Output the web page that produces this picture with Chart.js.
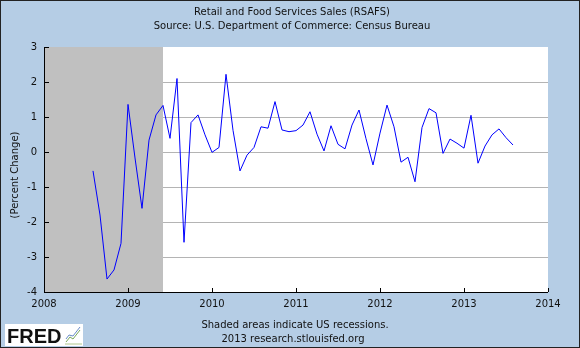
<!DOCTYPE html>
<html><head><meta charset="utf-8">
<script src="https://cdn.jsdelivr.net/npm/chart.js@4"></script>
<style>html,body{margin:0;padding:0;background:#b5cde5;} canvas{display:block;}</style>
</head><body><canvas id="c" width="580" height="348"></canvas>
<script>
const titleLines = ['Retail and Food Services Sales (RSAFS)', 'Source: U.S. Department of Commerce: Census Bureau'];
const footerLines = ['Shaded areas indicate US recessions.', '2013 research.stlouisfed.org'];
const yAxisTitle = '(Percent Change)';
const logoText = 'FRED';
const months = [
 '2008-08','2008-09','2008-10','2008-11','2008-12',
 '2009-01','2009-02','2009-03','2009-04','2009-05','2009-06','2009-07','2009-08','2009-09','2009-10','2009-11','2009-12',
 '2010-01','2010-02','2010-03','2010-04','2010-05','2010-06','2010-07','2010-08','2010-09','2010-10','2010-11','2010-12',
 '2011-01','2011-02','2011-03','2011-04','2011-05','2011-06','2011-07','2011-08','2011-09','2011-10','2011-11','2011-12',
 '2012-01','2012-02','2012-03','2012-04','2012-05','2012-06','2012-07','2012-08','2012-09','2012-10','2012-11','2012-12',
 '2013-01','2013-02','2013-03','2013-04','2013-05','2013-06','2013-07','2013-08'
];
const pctChange = [
 -0.54,-1.8,-3.63,-3.37,-2.61,
 1.36,-0.17,-1.61,0.34,1.06,1.33,0.39,2.1,-2.58,0.84,1.06,0.49,
 -0.01,0.13,2.22,0.62,-0.54,-0.09,0.13,0.72,0.68,1.44,0.63,0.58,
 0.61,0.77,1.15,0.51,0.03,0.75,0.22,0.09,0.77,1.2,0.38,-0.37,
 0.54,1.34,0.72,-0.29,-0.15,-0.85,0.7,1.24,1.12,-0.04,0.37,0.25,
 0.11,1.05,-0.32,0.17,0.49,0.66,0.41,0.2
];
const recession = ['2007-12','2009-06'];
const xTickYears = [2008,2009,2010,2011,2012,2013,2014];
const yTickValues = [-4,-3,-2,-1,0,1,2,3];

function toYear(s){ const [y,m]=s.split('-').map(Number); return y+(m-1)/12; }
const points = months.map((m,i)=>({x:toYear(m), y:pctChange[i]}));
const FONT = 'DejaVu Sans';

const fredPlugin = {
  id:'fred',
  beforeDraw(chart){
    const {ctx, chartArea:a} = chart;
    ctx.save();
    ctx.fillStyle='#b5cde5'; ctx.fillRect(0,0,chart.width,chart.height);
    ctx.fillStyle='#ffffff'; ctx.fillRect(a.left,a.top,a.right-a.left,a.bottom-a.top);
    ctx.restore();
  },
  beforeDatasetsDraw(chart){
    const {ctx, chartArea:a, scales:{x}} = chart;
    const x1 = Math.max(a.left, x.getPixelForValue(toYear(recession[0])));
    const x2 = Math.min(a.right, x.getPixelForValue(toYear(recession[1])));
    ctx.save();
    ctx.fillStyle='#c0c0c0';
    ctx.fillRect(x1,a.top,x2-x1,a.bottom-a.top);
    ctx.restore();
  },
  afterDatasetsDraw(chart){
    const {ctx, chartArea:a, scales:{x,y}} = chart;
    ctx.save();
    ctx.strokeStyle='#000'; ctx.lineWidth=1;
    ctx.beginPath();
    ctx.moveTo(a.left+0.5,a.top); ctx.lineTo(a.left+0.5,a.bottom+0.5); ctx.lineTo(a.right,a.bottom+0.5);
    yTickValues.forEach(v=>{ const py=Math.round(y.getPixelForValue(v))+0.5; ctx.moveTo(a.left,py); ctx.lineTo(a.left+5,py); });
    xTickYears.forEach(v=>{ const px=Math.round(x.getPixelForValue(v))+0.5; ctx.moveTo(px,a.bottom); ctx.lineTo(px,a.bottom-4); });
    ctx.stroke();
    ctx.restore();
  },
  afterDraw(chart){
    const {ctx} = chart;
    ctx.save();
    ctx.fillStyle='#111'; ctx.font='10px '+FONT; ctx.textAlign='center'; ctx.textBaseline='middle';
    ctx.fillText(titleLines[0],292,12);
    ctx.fillText(titleLines[1],292,26);
    ctx.fillText(footerLines[0],295,325);
    ctx.fillText(footerLines[1],293,339);
    ctx.translate(15,175); ctx.rotate(-Math.PI/2);
    ctx.fillText(yAxisTitle,0,0);
    ctx.restore();
    // FRED logo
    ctx.save();
    ctx.fillStyle='#ffffff'; ctx.fillRect(5,324,78,22);
    ctx.fillStyle='#111'; ctx.font='bold 20px "Liberation Sans"'; ctx.textAlign='left'; ctx.textBaseline='alphabetic';
    ctx.fillText(logoText,7,343);
    ctx.strokeStyle='#7aa85a'; ctx.lineWidth=1;
    ctx.beginPath(); ctx.moveTo(66,342); ctx.lineTo(70,337); ctx.lineTo(73,339); ctx.lineTo(80,330); ctx.stroke();
    ctx.strokeStyle='#6a8cc8';
    ctx.beginPath(); ctx.moveTo(66,339); ctx.lineTo(69,335); ctx.lineTo(73,336); ctx.lineTo(80,327); ctx.stroke();
    ctx.strokeStyle='#b0c890';
    ctx.beginPath(); ctx.moveTo(65,344); ctx.lineTo(82,344); ctx.stroke();
    ctx.restore();
    ctx.save(); ctx.strokeStyle='#222'; ctx.lineWidth=1; ctx.strokeRect(0.5,0.5,chart.width-1,chart.height-1); ctx.restore();
  }
};

new Chart(document.getElementById('c'), {
  type:'line',
  data:{ datasets:[{ data:points, borderColor:'#0000ff', borderWidth:1, pointRadius:0, tension:0, fill:false }] },
  options:{
    responsive:false, animation:false, devicePixelRatio:1,
    layout:{ padding:{ left:0, top:47, right:32, bottom:36 } },
    plugins:{ legend:{display:false}, tooltip:{enabled:false}, title:{display:false} },
    scales:{
      x:{ type:'linear', min:2008, max:2014,
          afterBuildTicks(s){ s.ticks = xTickYears.map(v=>({value:v})); },
          afterFit(s){ s.height = 20; },
          grid:{ display:false, drawTicks:false },
          border:{ display:false },
          ticks:{ color:'#111', font:{family:FONT,size:10}, padding:6, maxRotation:0, autoSkip:false, callback:v=>String(v) } },
      y:{ type:'linear', min:-4, max:3,
          afterBuildTicks(s){ s.ticks = yTickValues.map(v=>({value:v})); },
          afterFit(s){ s.width = 44; },
          grid:{ drawTicks:false, color:c=> (c.tick && (c.tick.value===3 || c.tick.value===-4)) ? 'rgba(0,0,0,0)' : '#b4b4b4' },
          border:{ display:false },
          ticks:{ color:'#111', font:{family:FONT,size:10}, padding:7, autoSkip:false, callback:v=>String(v) } }
    }
  },
  plugins:[fredPlugin]
});
</script></body></html>
